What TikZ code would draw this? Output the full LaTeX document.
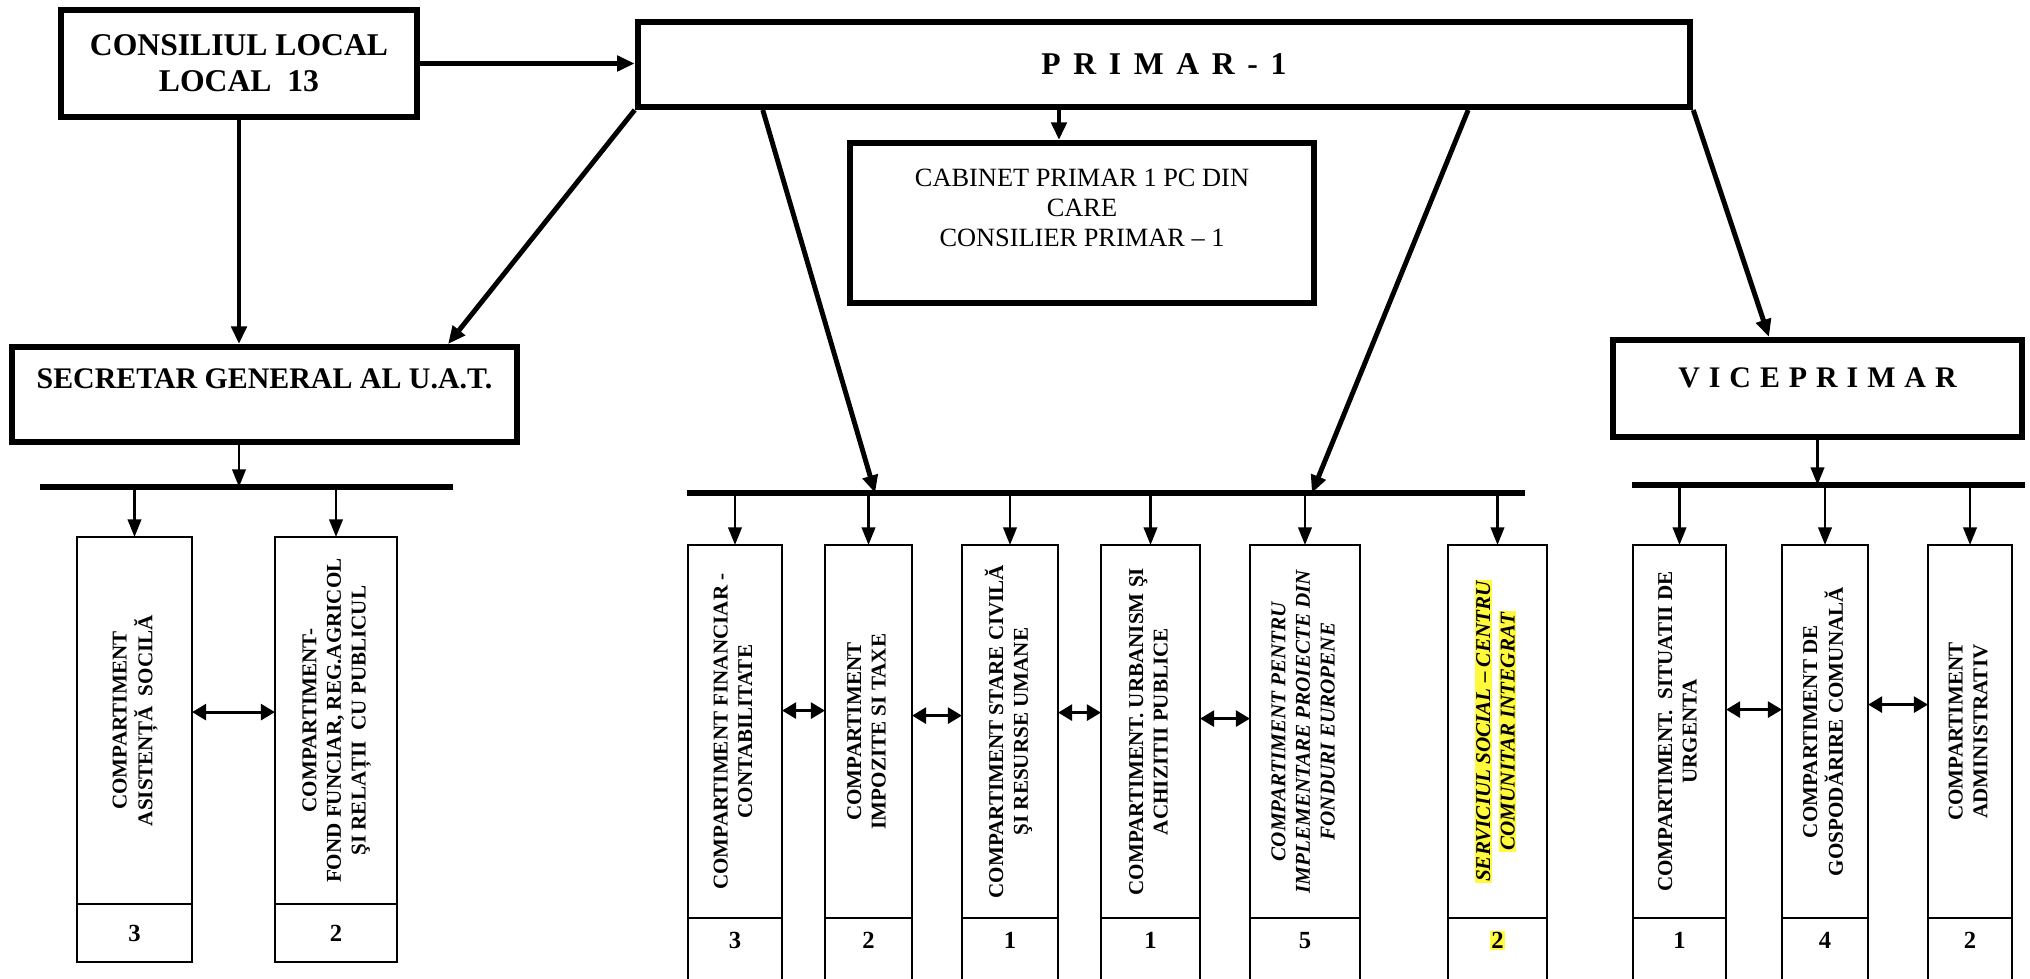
\documentclass[tikz,border=0pt]{standalone}
\usepackage{fontspec}
\setmainfont{Liberation Serif}
\usetikzlibrary{arrows.meta}
\definecolor{marker}{RGB}{255,250,60}
\setlength{\fboxsep}{0.4pt}
\newcommand{\vtext}[1]{\rotatebox{90}{\begin{tabular}{@{}c@{}}#1\end{tabular}}}
\newcommand{\marcat}[1]{\colorbox{marker}{#1}}
\begin{document}
\begin{tikzpicture}[x=0.01cm,y=-0.01cm,
    chief/.style={draw,line width=1.7pt,inner sep=0pt,align=center,font=\fontsize{9}{10.2}\selectfont\bfseries},
    dept/.style={draw,line width=0.7pt,inner sep=0pt,outer sep=0pt,anchor=north,minimum height=3.73cm,font=\fontsize{6}{7}\selectfont\bfseries},
    ital/.style={font=\fontsize{6}{7}\selectfont\bfseries\itshape},
    nr/.style={draw,line width=0.7pt,inner sep=0pt,outer sep=0pt,anchor=north,font=\fontsize{7}{8}\selectfont\bfseries},
    nrcut/.style={nr,minimum height=0.72cm,text height=5pt,text depth=8.2pt},
    bar/.style={line width=1.6pt},
    link/.style={line width=1.4pt,-{Triangle[length=5pt,width=4.3pt]}},
    sub/.style={line width=0.75pt,-{Triangle[length=5pt,width=3.8pt]}},
    dbl/.style={line width=0.9pt,{Triangle[length=4pt,width=4.5pt]}-{Triangle[length=4pt,width=4.5pt]}}]
\useasboundingbox (0,0) rectangle (2030,979);
% conducere
\node[chief,minimum width=3.56cm,minimum height=1.07cm] (cons) at (239,63.5) {CONSILIUL LOCAL\\LOCAL\ \ 13};
\node[chief,minimum width=10.52cm,minimum height=0.85cm] (primar) at (1164,64.5) {\addfontfeature{LetterSpace=40}PRIMAR-1};
\node[chief,font=\fontsize{7.5}{8.5}\selectfont,minimum width=4.64cm,minimum height=1.6cm] (cab) at (1082,223) {CABINET PRIMAR 1 PC DIN\\CARE\\CONSILIER PRIMAR – 1\\\mbox{}};
\node[chief,font=\fontsize{8.5}{9}\selectfont\bfseries,minimum width=5.05cm,minimum height=0.95cm] (secr) at (264.5,394.5) {SECRETAR GENERAL AL U.A.T.\\\mbox{}};
\node[chief,font=\fontsize{8.5}{10}\selectfont\bfseries,minimum width=4.09cm,minimum height=0.97cm] (vice) at (1817.5,388.5) {\addfontfeature{LetterSpace=30}VICEPRIMAR\\[-4pt]\mbox{}};
% bare
\coordinate (b1w) at (40,487); \coordinate (b1e) at (453,487);
\coordinate (b2w) at (687,493); \coordinate (b2e) at (1525,493);
\coordinate (b3w) at (1632,485); \coordinate (b3e) at (2025,485);
\draw[bar] (b1w) -- (b1e);
\draw[bar] (b2w) -- (b2e);
\draw[bar] (b3w) -- (b3e);
% compartimente secretar
\node[dept,minimum width=1.15cm,minimum height=3.67cm] (asist) at (134.5,537) {\vtext{COMPARTIMENT\\ASISTENȚĂ\ \ SOCILĂ}};
\node[nr,minimum width=1.15cm,minimum height=0.58cm] (asistnr) at (asist.south) {3};
\node[dept,minimum width=1.22cm,minimum height=3.67cm] (fond) at (336,537) {\vtext{COMPARTIMENT-\\FOND FUNCIAR, REG.AGRICOL\\ŞI RELAȚII\ \ CU PUBLICUL}};
\node[nr,minimum width=1.22cm,minimum height=0.58cm] (fondnr) at (fond.south) {2};
% compartimente primar
\node[dept,minimum width=0.94cm] (finan) at (735,545) {\vtext{COMPARTIMENT FINANCIAR -\\CONTABILITATE}};
\node[nrcut,minimum width=0.94cm] (finannr) at (finan.south) {3};
\node[dept,minimum width=0.87cm] (impoz) at (868.5,545) {\vtext{COMPARTIMENT\\IMPOZITE SI TAXE}};
\node[nrcut,minimum width=0.87cm] (impoznr) at (impoz.south) {2};
\node[dept,minimum width=0.96cm] (stare) at (1010,545) {\vtext{COMPARTIMENT STARE CIVILĂ\\ŞI RESURSE UMANE}};
\node[nrcut,minimum width=0.96cm] (starenr) at (stare.south) {1};
\node[dept,minimum width=0.99cm] (urban) at (1150.5,545) {\vtext{COMPARTIMENT. URBANISM ŞI\\ACHIZITII PUBLICE}};
\node[nrcut,minimum width=0.99cm] (urbannr) at (urban.south) {1};
\node[dept,ital,minimum width=1.1cm] (fonduri) at (1305,545) {\vtext{COMPARTIMENT PENTRU\\IMPLEMENTARE PROIECTE DIN\\FONDURI EUROPENE}};
\node[nrcut,minimum width=1.1cm] (fondurinr) at (fonduri.south) {5};
\node[dept,ital,minimum width=0.99cm] (social) at (1497.5,545) {\vtext{\marcat{SERVICIUL SOCIAL – CENTRU}\\\marcat{COMUNITAR INTEGRAT}}};
\node[nrcut,minimum width=0.99cm] (socialnr) at (social.south) {\marcat{2}};
% compartimente viceprimar
\node[dept,minimum width=0.93cm] (urgent) at (1679.5,545) {\vtext{COMPARTIMENT.\ \ SITUATII DE\\URGENTA}};
\node[nrcut,minimum width=0.93cm] (urgentnr) at (urgent.south) {1};
\node[dept,minimum width=0.86cm] (gosp) at (1825,545) {\vtext{COMPARTIMENT DE\\GOSPODĂRIRE COMUNALĂ}};
\node[nrcut,minimum width=0.86cm] (gospnr) at (gosp.south) {4};
\node[dept,minimum width=0.84cm] (admin) at (1970,545) {\vtext{COMPARTIMENT\\ADMINISTRATIV}};
\node[nrcut,minimum width=0.84cm] (adminnr) at (admin.south) {2};
% legaturi
\draw[link] (cons.east) -- (cons.east -| primar.west);
\draw[link] (cons.south) -- (cons.south |- secr.north);
\draw[link] (primar.south west) -- ([xshift=-0.72cm]secr.north east);
\draw[link] ([xshift=1.28cm]primar.south west) -- ([xshift=1.88cm]b2w);
\draw[link] ([xshift=-0.23cm]cab.north |- primar.south) -- ([xshift=-0.23cm]cab.north);
\draw[link] ([xshift=-2.25cm]primar.south east) -- ([xshift=-2.13cm]b2e);
\draw[link] (primar.south east) -- ([xshift=1.59cm]vice.north west);
\draw[sub] (cons.south |- secr.south) -- (cons.south |- b1w);
\draw[sub] (vice.south) -- (vice.south |- b3w);
\foreach \d in {asist,fond} \draw[sub] (\d.north |- b1w) -- (\d.north);
\foreach \d in {finan,impoz,stare,urban,fonduri,social} \draw[sub] (\d.north |- b2w) -- (\d.north);
\foreach \d in {urgent,gosp,admin} \draw[sub] (\d.north |- b3w) -- (\d.north);
\draw[dbl] ([yshift=0.085cm]asist.east) -- ([yshift=0.085cm]fond.west);
\foreach \a/\b/\s in {finan/impoz/0.21,impoz/stare/0.16,stare/urban/0.19,urban/fonduri/0.13,urgent/gosp/0.22,gosp/admin/0.27}
  \draw[dbl] ([yshift=\s cm]\a.east) -- ([yshift=\s cm]\b.west);
\end{tikzpicture}
\end{document}
